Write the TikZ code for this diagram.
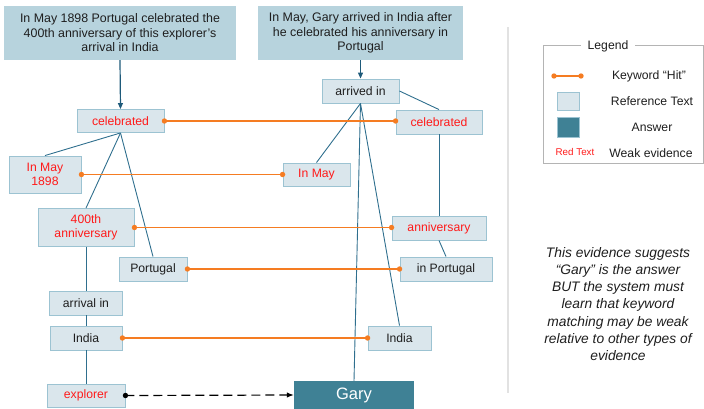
\documentclass[tikz,border=0pt]{standalone}
\usepackage{fontspec}
\setmainfont{Liberation Sans}
\usetikzlibrary{arrows.meta}
\definecolor{topfill}{HTML}{B7D3DD}
\definecolor{nodefill}{HTML}{DAE6EC}
\definecolor{nodeline}{HTML}{9CC3D2}
\definecolor{linkcol}{HTML}{2F6F8E}
\definecolor{arrowcol}{HTML}{1E5A7A}
\definecolor{hitcol}{HTML}{F57C22}
\definecolor{weakred}{HTML}{FF1A1A}
\definecolor{answerfill}{HTML}{3F8195}
\definecolor{sepgray}{HTML}{E2E2E2}
\definecolor{legendgray}{HTML}{B4B4B4}
\definecolor{textdark}{HTML}{1E1E1E}
\begin{document}
\begin{tikzpicture}[x=1pt,y=-1pt,
 refbox/.style={draw=nodeline,fill=nodefill,line width=0.9pt,inner sep=0pt,
   font=\fontsize{12.2}{14}\selectfont,text=textdark,align=center},
 weak/.style={text=weakred},
 topbox/.style={fill=topfill,inner sep=0pt,font=\fontsize{12.4}{14.5}\selectfont,
   align=center,text=textdark},
 answerbox/.style={fill=answerfill,inner sep=0pt,text=white,font=\fontsize{16.5}{18}\selectfont},
 link/.style={draw=linkcol,line width=0.9pt},
 feed/.style={draw=arrowcol,line width=1.2pt,-{Triangle[length=6pt,width=5pt]}},
 hit/.style={draw=hitcol,line width=1.3pt},
 hitdot/.style={fill=hitcol},
 legtext/.style={font=\fontsize{12.2}{14}\selectfont,text=textdark},
 note/.style={font=\fontsize{13.8}{17.2}\selectfont\itshape,align=center,text=textdark},
]
\useasboundingbox (0,0) rectangle (704,409);

% top reference texts
\node[topbox,minimum width=232pt,minimum height=54pt] (topL) at (120,33)
  {In May 1898 Portugal celebrated the\\400th anniversary of this explorer’s\\arrival in India};
\node[topbox,minimum width=205pt,minimum height=54pt] (topR) at (360.5,33)
  {In May, Gary arrived in India after\\he celebrated his anniversary in\\Portugal};

% left graph
\node[refbox,weak,minimum width=87pt,minimum height=23pt] (celL) at (120.5,121) {celebrated};
\node[refbox,weak,minimum width=72pt,minimum height=37pt] (mayL) at (45,174.5) {In May\\1898};
\node[refbox,weak,minimum width=96pt,minimum height=38pt] (annL) at (86,227.5) {400th\\anniversary};
\node[refbox,minimum width=68pt,minimum height=24pt] (portL) at (153,269) {Portugal};
\node[refbox,minimum width=73pt,minimum height=24pt] (arrL) at (86,303) {arrival in};
\node[refbox,minimum width=72pt,minimum height=24pt] (indL) at (86,338) {India};
\node[refbox,weak,minimum width=78pt,minimum height=23pt] (expl) at (86,395.5) {explorer};

% right graph
\node[refbox,minimum width=77pt,minimum height=24pt] (arrR) at (360.5,91) {arrived in};
\node[refbox,weak,minimum width=86pt,minimum height=24pt] (celR) at (439,122) {celebrated};
\node[refbox,weak,minimum width=67pt,minimum height=23pt] (mayR) at (316.5,174.5) {In May};
\node[refbox,weak,minimum width=94pt,minimum height=24pt] (annR) at (439,228) {anniversary};
\node[refbox,minimum width=92pt,minimum height=24pt] (portR) at (446,269) {in Portugal};
\node[refbox,minimum width=63pt,minimum height=24pt] (indR) at (399.5,338) {India};
\node[answerbox,minimum width=120pt,minimum height=28pt] (gary) at (354,395) {Gary};

% feeding arrows
\draw[feed] (topL.south) -- (celL.north);
\draw[feed] (topR.south) -- (arrR.north);

% structure links
\draw[link] (celL.south) -- (mayL.north);
\draw[link] (celL.south) -- (annL.north);
\draw[link] (celL.south) -- (portL.north);
\draw[link] (annL.south) -- (arrL.north);
\draw[link] (arrL.south) -- (indL.north);
\draw[link] (indL.south) -- (expl.north);
\draw[link] (arrR.south) -- (mayR.north);
\draw[link] (arrR.south) -- (gary.north);
\draw[link] (arrR.south) -- (indR.north);
\draw[link] (arrR.east) -- (celR.north);
\draw[link] (celR.south) -- (annR.north);
\draw[link] (annR.south) -- (portR.north);

% keyword hits (horizontal)
\foreach \a/\b in {celL/celR, mayL/mayR, annL/annR, portL/portR, indL/indR}{
  \draw[hit] (\a.east) -- (\a.east -| \b.west);
  \fill[hitdot] (\a.east) circle (2.7pt);
  \fill[hitdot] (\a.east -| \b.west) circle (2.7pt);
}

% answer link
\draw[black,line width=1.2pt,dash pattern=on 9pt off 5pt,-{Latex[length=7pt,width=5.5pt]}] (expl.east) -- (gary.west);
\fill[black] (expl.east) circle (2.7pt);

% separator
\draw[sepgray,line width=2pt] (508,27) -- (508,393);

% legend
\draw[legendgray,line width=1pt] (543,46) rectangle (703,163);
\node[fill=white,inner xsep=7pt,inner ysep=1pt,legtext] (legtitle) at (608,46) {Legend};
\coordinate (hitA) at (554,76);
\coordinate (hitB) at (581,76);
\draw[hit] (hitA) -- (hitB);
\fill[hitdot] (hitA) circle (2.7pt);
\fill[hitdot] (hitB) circle (2.7pt);
\node[legtext] (lg1) at (649,76) {Keyword “Hit”};
\node[draw=nodeline,fill=nodefill,line width=0.9pt,minimum width=22pt,minimum height=18pt,inner sep=0pt] (sq1) at (568,101) {};
\node[legtext] (lg2) at (652,101) {Reference Text};
\node[fill=answerfill,draw=nodeline,line width=0.5pt,minimum width=22pt,minimum height=20pt,inner sep=0pt] (sq2) at (568,127) {};
\node[legtext] (lg3) at (652,127) {Answer};
\node[font=\fontsize{9.8}{11}\selectfont,text=weakred] (lg4t) at (575,152) {Red Text};
\node[legtext] (lg4) at (651,153) {Weak evidence};

% note
\node[note] (note) at (618,304) {This evidence suggests\\“Gary” is the answer\\BUT the system must\\learn that keyword\\matching may be weak\\relative to other types of\\evidence};
\end{tikzpicture}
\end{document}
